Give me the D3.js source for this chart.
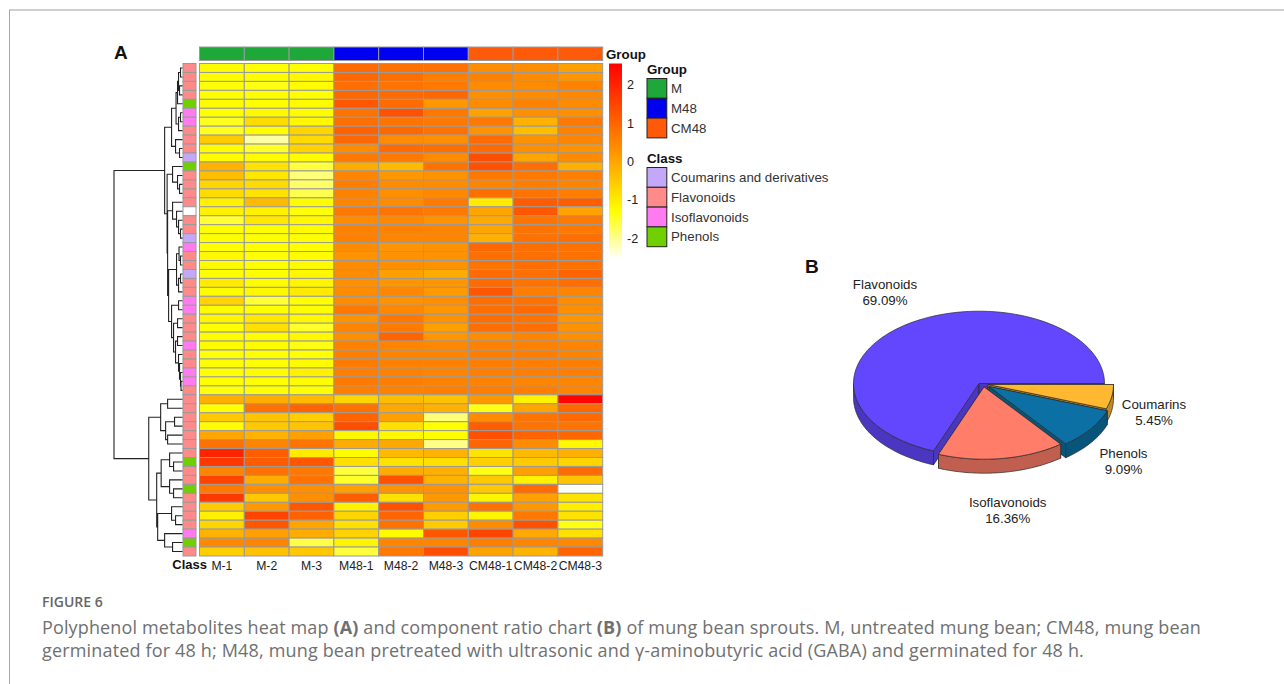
<!DOCTYPE html>
<html><head><meta charset="utf-8">
<script src="https://cdnjs.cloudflare.com/ajax/libs/d3/7.8.5/d3.min.js"></script>
<style>html,body{margin:0;padding:0;background:#fff}svg{display:block}</style>
</head><body><svg id="c" width="1284" height="684"></svg>
<script>
// ---------- data ----------
const columns=["M-1","M-2","M-3","M48-1","M48-2","M48-3","CM48-1","CM48-2","CM48-3"];
const columnGroup=["M","M","M","M48","M48","M48","CM48","CM48","CM48"];
const groupNames=["M","M48","CM48"];
const classNames=["Coumarins and derivatives","Flavonoids","Isoflavonoids","Phenols"];
const rowClass=["F","F","F","F","P","I","I","F","F","F","C","P","F","F","F","F","","F","F","C","I","F","F","C","F","F","I","I","F","F","F","I","F","F","I","I","F",
"F","F","F","F","F","F","F","P","F","F","P","F","F","F","F","I","P","F"];
const valuesM1=[-1.25,-1.25,-1.35,-1.3,-1.25,-1.3,-1.45,-1.45,-.55,-1.25,-1.25,-.2,-.35,-.7,-.8,-1.1,-1.1,-1.55,-1.3,-1.3,-1.3,-1.2,-1.25,-1.3,-1,-1.25,-.65,-1.25,-1.15,-1.3,-1.25,-1.25,-1.35,-1.3,-1.3,-1.3,-1.35,-.15,-1.3,-.5,-1.25,0,.8,2,1.7,.5,1.5,.7,1.7,-.55,-1.1,-.7,-.2,.45,-.6];
const valuesM2=[-1.3,-1.25,-1.4,-1.3,-1.3,-1.2,-.8,-1.25,-2.1,-1.5,-1.25,-.9,-.95,-.8,-.9,-.3,-1.1,-.95,-1.3,-1.3,-1.3,-1.3,-1.3,-1.3,-1.25,-1.2,-1.55,-1.3,-.95,-.85,-1.25,-1.25,-1.3,-1.3,-1.25,-1.3,-1.3,-.1,.8,-.45,-.5,-.2,.5,1.1,1.15,.8,-.1,.35,-.5,.2,1.5,1.2,.1,.5,-.4];
const valuesM3=[-1.3,-1.2,-1.25,-1.3,-1.25,-1.25,-1.2,-.7,-.75,-.65,-1.25,-1.6,-1.9,-1.8,-1.7,-1.25,-1.35,-1.2,-1.25,-1.3,-1.3,-1.25,-1.25,-1.2,-1.15,-1,-1.3,-1.3,-1.2,-1.5,-1.2,-1.4,-1.3,-1.25,-1.1,-1.25,-1.3,-.3,1,-.6,-.45,.1,.75,-1,1.2,.7,.8,.35,.35,1.2,1.05,0,-.1,-1.65,-.5];
const valuesM481=[.9,.95,.85,.95,1.2,.75,.85,1.05,.95,.4,.7,-.1,.5,.6,.55,.5,.7,.4,.55,.55,.4,.3,.4,.4,.35,.4,.4,.7,.3,.5,.35,.55,.6,.65,.6,.7,.6,-.7,.8,1,1.35,-1.2,-.1,-1.25,-.85,-1.6,-1.5,.1,1.1,-1.1,-.7,-.85,-.65,-1.15,-1.6];
const valuesM482=[.8,.85,.75,.9,.9,1.3,.75,.95,.4,.9,.7,-.3,.2,.4,.35,.4,.75,.45,.55,.5,.25,.3,.35,.1,.25,.45,.3,.45,.7,.65,1,.5,.5,.55,.55,.6,.55,-.35,-.05,.1,-.85,-1.2,-.05,-.3,-.9,-.1,1.3,.3,-.85,1.3,1,.8,-1.25,.5,.7];
const valuesM483=[.8,.6,.7,.95,.2,.7,.7,.8,.35,.85,.4,.75,.3,.4,.45,.65,.7,.3,.5,.5,.3,.3,.3,-.1,.25,.15,.35,.25,.3,.1,.25,.45,.5,.55,.5,.55,.6,-.4,-.2,-1.9,-1.3,-1.3,-1.95,-.2,-.85,-.15,-.2,.3,.2,.15,-.6,-.55,1.2,.5,1.35];
const valuesCM1=[.35,.55,.4,.35,.4,.05,.7,.3,.9,.9,1.35,1.3,.7,.5,.85,-1,0,-.05,0,-.15,.95,.85,.75,.9,.9,1.2,.85,.85,.85,.85,.4,.55,.6,.6,.6,.55,.6,.2,-1.4,.4,1.1,1.3,1,-.9,-.6,-1.4,-.5,-.5,-1.15,.8,-1.15,.4,1.5,.6,.05];
const valuesCM2=[.35,.4,.4,.4,.55,.35,-.2,-.35,.3,.35,0,.85,.7,.6,.75,1.15,1.2,.75,.75,.8,.85,.85,.85,.85,.75,.6,.8,.9,.75,.85,.5,.55,.6,.6,.6,.5,.6,-1.1,0,.75,.75,1,.4,-.3,-.55,.1,-1.1,.9,.1,.2,.7,1.3,-.05,.5,-.2];
const valuesCM3=[.1,.25,.55,.45,.4,.35,.7,.55,.5,.3,.4,-.15,.6,.5,.6,1.1,.05,.7,.7,.85,.8,.8,.8,1,.85,.5,.4,.35,.25,.3,.35,.5,.5,.6,.6,.5,.5,2.5,.95,.9,.75,.95,-1.2,-.15,-.7,.9,-.45,-2.5,-.9,-1.05,-.9,-1.4,-.85,.45,1];
const colorTicks=[2,1,0,-1,-2];
const pieNames=["Coumarins","Phenols","Isoflavonoids","Flavonoids"];
const pieValues=[5.45,9.09,16.36,69.09];
// dendrogram: [merge height, left, right]; 0 = leaf
const dendro=[69,
 [18,
  [11,
   [6.5,[5,[4,[2,0,0],[3,0,0]],0],[4,[2,0,0],0]],
   [7,0,[3,0,0]]],
  [15.5,
   [10,0,[5,0,[3,0,0]]],
   [15,
    [10,0,[6,0,[4,0,[2,0,0]]]],
    [14,
     [6,[3.5,0,[2,0,0]],[4,[2,0,0],0]],
     [11,[4,0,0],[9,[5,0,0],[7,[5,0,0],[4,0,[3,0,[2,0,[1.5,0,0]]]]]]]]]]],
 [34,
  [22,[15,0,0],[17,[8,0,0],[15,0,0]]],
  [26,
   [21.5,[13,0,[9,0,0]],[13,0,[9,0,0]]],
   [25,[11,0,[7,0,0]],[18,0,[10,0,0]]]]]];

// ---------- styling ----------
const FONT="'Liberation Sans',Arial,sans-serif";
const GRID="#9a9a9a";
const groupColor={M:"#1fa83a",M48:"#0000f0",CM48:"#ff5a0a"};
const classColor={C:"#c3a8fa",F:"#ff8a8a",I:"#ff7bef",P:"#6fcf00","":"#ffffff"};
const classKeys=["C","F","I","P"];
const pieTop={Flavonoids:"#6347ff",Isoflavonoids:"#ff7d69",Phenols:"#0c70a5",Coumarins:"#ffb830"};
const pieWall={Flavonoids:"#4a36c0",Isoflavonoids:"#c05f4f",Phenols:"#08557c",Coumarins:"#c08b24"};

const svg=d3.select("#c");
const allCols=[valuesM1,valuesM2,valuesM3,valuesM481,valuesM482,valuesM483,valuesCM1,valuesCM2,valuesCM3];
const nRows=valuesM1.length;

// frame
svg.append("line").attr("x1",9).attr("x2",1284).attr("y1",10).attr("y2",10).attr("stroke","#cfcfcf").attr("stroke-width",2);
svg.append("line").attr("x1",9.5).attr("x2",9.5).attr("y1",10).attr("y2",684).attr("stroke","#a8a8a8").attr("stroke-width",1);

// ---------- heat map ----------
const xB=d3.scaleBand().domain(d3.range(columns.length)).range([199.5,602.7]);
const yB=d3.scaleBand().domain(d3.range(nRows)).range([63.5,556]);
const heatColor=d3.scaleLinear().domain([-2.55,-1.3,0,2.55]).range(["#ffffff","#ffff00","#ffa500","#ff0000"]).clamp(true);
const heat=svg.append("g");
allCols.forEach((vals,c)=>{
  heat.selectAll(null).data(vals).join("rect")
   .attr("x",xB(c)).attr("y",(d,i)=>yB(i)).attr("width",xB.bandwidth()).attr("height",yB.bandwidth())
   .attr("fill",d=>heatColor(d)).attr("stroke",GRID).attr("stroke-width",1);
});
// group strip
svg.append("g").selectAll("rect").data(columnGroup).join("rect")
 .attr("x",(d,i)=>xB(i)).attr("y",47).attr("width",xB.bandwidth()).attr("height",13.5)
 .attr("fill",d=>groupColor[d]).attr("stroke",GRID);
// class strip
svg.append("g").selectAll("rect").data(rowClass).join("rect")
 .attr("x",183).attr("y",(d,i)=>yB(i)).attr("width",13).attr("height",yB.bandwidth())
 .attr("fill",d=>classColor[d]).attr("stroke",GRID);
// column labels
const colAxis=d3.axisBottom(xB).tickSize(0).tickFormat(i=>columns[i]);
const gc=svg.append("g").attr("transform","translate(0,556)").call(colAxis);
gc.select(".domain").remove();
gc.selectAll("text").attr("y",5.5).attr("font-family",FONT).attr("font-size",12.2).attr("fill","#222");
svg.append("text").attr("x",207).attr("y",568.5).attr("text-anchor","end").attr("font-family",FONT).attr("font-weight","bold").attr("font-size",13).attr("fill","#111").text("Class");
svg.append("text").attr("x",606).attr("y",58.5).attr("font-family",FONT).attr("font-weight","bold").attr("font-size",13.3).attr("fill","#111").text("Group");

// dendrogram
const root=d3.hierarchy(dendro,d=>Array.isArray(d)?d.slice(1):null);
const hx=d3.scaleLinear().domain([0,69]).range([182.5,114]);
let leaf=0;
root.eachAfter(n=>{
  if(!n.children){n.row=leaf++;n.cy=yB(n.row)+yB.bandwidth()/2;n.h=0;}
  else{n.h=n.data[0];n.cy=(n.children[0].cy+n.children[1].cy)/2;}
});
const dp=d3.path();
root.each(n=>{ if(n.children){
  const x=hx(n.h);
  dp.moveTo(hx(n.children[0].h),n.children[0].cy);dp.lineTo(x,n.children[0].cy);
  dp.lineTo(x,n.children[1].cy);dp.lineTo(hx(n.children[1].h),n.children[1].cy);
}});
svg.append("path").attr("d",dp.toString()).attr("fill","none").attr("stroke","#222").attr("stroke-width",1.1);

// colour bar
const cY=d3.scaleLinear().domain([2.55,-2.49]).range([63.5,257]);
const defs=svg.append("defs");
const grad=defs.append("linearGradient").attr("id","cb").attr("x1",0).attr("y1",0).attr("x2",0).attr("y2",1);
d3.range(0,1.0001,0.02).forEach(t=>grad.append("stop").attr("offset",t).attr("stop-color",heatColor(cY.invert(63.5+t*(257-63.5)))));
svg.append("rect").attr("x",609).attr("y",63.5).attr("width",13).attr("height",193.5).attr("fill","url(#cb)");
const cAxis=d3.axisRight(cY).tickValues(colorTicks).tickSize(0).tickFormat(d=>String(d).replace("−","-"));
const ga=svg.append("g").attr("transform","translate(622,0)").call(cAxis);
ga.select(".domain").remove();
ga.selectAll("text").attr("x",5).attr("font-family",FONT).attr("font-size",12.6).attr("fill","#222");

// legends
function legend(title,titleY,top,names,colors){
  svg.append("text").attr("x",647).attr("y",titleY).attr("font-family",FONT).attr("font-weight","bold").attr("font-size",13.3).attr("fill","#111").text(title);
  const s=19.8;
  names.forEach((n,i)=>{
    svg.append("rect").attr("x",647).attr("y",top+i*s).attr("width",19.8).attr("height",s).attr("fill",colors[i]).attr("stroke","#222").attr("stroke-width",1);
    svg.append("text").attr("x",671).attr("y",top+i*s+14.5).attr("font-family",FONT).attr("font-size",13.3).attr("fill","#333").text(n);
  });
}
legend("Group",73.5,78.5,groupNames,groupNames.map(g=>groupColor[g]));
legend("Class",163,167.5,classNames,classKeys.map(k=>classColor[k]));

// panel letters
[["A",114,58.5],["B",805,272.5]].forEach(([t,x,y])=>svg.append("text").attr("x",x).attr("y",y).attr("font-family",FONT).attr("font-weight","bold").attr("font-size",19).attr("fill","#111").text(t));

// ---------- 3D pie ----------
const pie=d3.pie().sort(null).value(d=>d)(pieValues);
const PC={x:979,y:383.5,rx:125.5,ry:72.3,depth:14};
const explode=[[9,1],[10,3],[5,3.4],[0,0]];
const line=d3.line().x(d=>d[0]).y(d=>d[1]);
pie.forEach((s,i)=>{s.name=pieNames[i];s.dx=explode[i][0];s.dy=explode[i][1];});
const pt=(s,a,z=0)=>[PC.x+s.dx+PC.rx*Math.cos(a),PC.y+s.dy+PC.ry*Math.sin(a)+z];
const arcPts=(s,a0,a1,z=0)=>{const n=Math.max(2,Math.ceil((a1-a0)*40));return d3.range(n+1).map(k=>pt(s,a0+(a1-a0)*k/n,z));};
const order=[3,0,1,2];
const pg=svg.append("g").attr("stroke","#2a2a2a").attr("stroke-width",.7).attr("stroke-linejoin","round");
order.forEach(i=>{
  const s=pie[i];
  const apex=[PC.x+s.dx,PC.y+s.dy];
  const apexD=[apex[0],apex[1]+PC.depth];
  [s.startAngle,s.endAngle].forEach(a=>{
    const o=pt(s,a),oD=pt(s,a,PC.depth);
    pg.append("path").attr("d",line([apex,o,oD,apexD])+"Z").attr("fill",pieWall[s.name]);
  });
  const a0=s.startAngle,a1=Math.min(s.endAngle,Math.PI);
  if(a1>a0){
    pg.append("path").attr("d",line([...arcPts(s,a0,a1),...arcPts(s,a0,a1,PC.depth).reverse()])+"Z").attr("fill",pieWall[s.name]);
  }
  pg.append("path").attr("d",line([apex,...arcPts(s,s.startAngle,s.endAngle)])+"Z").attr("fill",pieTop[s.name]);
});
const pieLabels={Flavonoids:[885,289],Coumarins:[1154,408.5],Phenols:[1123.5,458.3],Isoflavonoids:[1007.7,506.7]};
defs.append("clipPath").attr("id","lab").append("rect").attr("x",800).attr("y",260).attr("width",386).attr("height",280);
const lg=svg.append("g").attr("clip-path","url(#lab)").attr("font-family",FONT).attr("font-size",13.3).attr("fill","#222").attr("text-anchor","middle");
pie.forEach(s=>{
  const [x,y]=pieLabels[s.name];
  lg.append("text").attr("x",x).attr("y",y).text(s.name);
  lg.append("text").attr("x",x).attr("y",y+16).text(d3.format(".2f")(s.value)+"%");
});

// ---------- caption ----------
const CF="'Open Sans',Lato,sans-serif";
svg.append("text").attr("x",42).attr("y",607).attr("font-family",CF).attr("font-size",14).attr("font-weight",600).attr("fill","#666").text("FIGURE 6");
const cap=[
 [["Polyphenol metabolites heat map ",0],["(A)",1],[" and component ratio chart ",0],["(B)",1],[" of mung bean sprouts. M, untreated mung bean; CM48, mung bean",0]],
 [["germinated for 48 h; M48, mung bean pretreated with ultrasonic and γ-aminobutyric acid (GABA) and germinated for 48 h.",0]]
];
const capWidth=[1159,1042];
cap.forEach((parts,i)=>{
  const t=svg.append("text").attr("x",42).attr("y",634+i*23).attr("font-family",CF).attr("font-size",18).attr("fill","#707070");
  parts.forEach(([s,b])=>t.append("tspan").attr("font-weight",b?700:400).text(s));
  const w=t.node().getComputedTextLength();
  const chars=parts.reduce((a,p)=>a+p[0].length,0);
  t.attr("letter-spacing",(capWidth[i]-w)/chars);
});
</script></body></html>
